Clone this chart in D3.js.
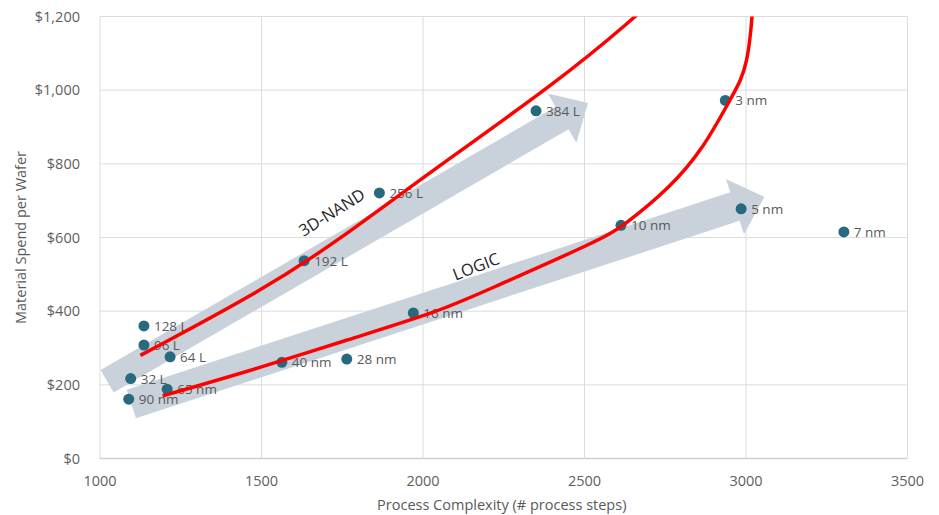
<!DOCTYPE html>
<html>
<head>
<meta charset="utf-8">
<script src="https://cdn.jsdelivr.net/npm/d3@7"></script>
<style>
  body { margin: 0; background: #fff; }
  text { font-family: "Open Sans", sans-serif; }
</style>
</head>
<body>
<svg id="chart" width="939" height="515"></svg>
<script>
// node labels, process steps and material spend ($ per wafer)
const nodeLabels = ["128 L", "96 L", "64 L", "32 L", "192 L", "256 L", "384 L",
                    "90 nm", "65 nm", "40 nm", "28 nm", "16 nm", "10 nm", "5 nm", "3 nm", "7 nm"];
const processSteps = [1136, 1136, 1217, 1095, 1632, 1865, 2350,
                      1089, 1208, 1563, 1764, 1970, 2613, 2985, 2936, 3303];
const materialSpend = [360, 308, 276, 217, 537, 721, 944,
                       161, 188, 261, 270, 395, 633, 678, 972, 615];

const xTicks = [1000, 1500, 2000, 2500, 3000, 3500];
const yTicks = [0, 200, 400, 600, 800, 1000, 1200];

// hand drawn trend curves (steps, spend)
const nandTrend = [[1125, 280], [1505, 457], [1743, 595], [2000, 764], [2424, 1027], [2656, 1198], [2700, 1235]];
const logicTrend = [[1194, 170], [1495, 246], [1765, 322], [2053, 400], [2198, 457], [2548, 593],
                    [2616, 628], [2768, 737], [2870, 845], [2950, 973], [2985, 1027], [3003, 1081],
                    [3012, 1136], [3019, 1198], [3021, 1240]];

// big grey arrows: [tail, tip] in data units
const nandArrow = [[1022, 210], [2511, 965]];
const logicArrow = [[1097, 148], [3057, 710]];

const svg = d3.select("#chart");
const margin = {top: 16.5, right: 31.5, bottom: 56.5, left: 100};
const W = 939, H = 515;

const x = d3.scaleLinear().domain([1000, 3500]).range([margin.left, W - margin.right]);
const y = d3.scaleLinear().domain([0, 1200]).range([H - margin.bottom, margin.top]);

svg.append("clipPath").attr("id", "plotClip")
  .append("rect")
    .attr("x", margin.left).attr("y", margin.top)
    .attr("width", W - margin.left - margin.right)
    .attr("height", H - margin.top - margin.bottom);

// gridlines
svg.append("g")
  .selectAll("line").data(yTicks).join("line")
    .attr("x1", margin.left).attr("x2", W - margin.right)
    .attr("y1", d => y(d)).attr("y2", d => y(d))
    .attr("stroke", d => d === 0 ? "#d0d0d0" : "#dcdcdc").attr("stroke-width", d => d === 0 ? 1.5 : 1);

svg.append("g")
  .selectAll("line").data(xTicks).join("line")
    .attr("x1", d => x(d)).attr("x2", d => x(d))
    .attr("y1", margin.top).attr("y2", H - margin.bottom)
    .attr("stroke", "#dcdcdc");

// tick labels
svg.append("g").selectAll("text").data(yTicks).join("text")
  .attr("x", margin.left - 20).attr("y", d => y(d))
  .attr("dy", "0.35em").attr("text-anchor", "end")
  .attr("font-size", 14.5).attr("fill", "#606060")
  .text(d => "$" + d3.format(",")(d));

svg.append("g").selectAll("text").data(xTicks).join("text")
  .attr("x", d => x(d)).attr("y", H - margin.bottom + 27)
  .attr("text-anchor", "middle")
  .attr("font-size", 14.5).attr("fill", "#606060")
  .text(d => d);

// axis titles
svg.append("text")
  .attr("x", (margin.left + W - margin.right) / 2 - 2).attr("y", 510)
  .attr("text-anchor", "middle").attr("font-size", 14.5).attr("fill", "#595959")
  .text("Process Complexity (# process steps)");

svg.append("text")
  .attr("transform", `translate(26,${(margin.top + H - margin.bottom) / 2}) rotate(-90)`)
  .attr("text-anchor", "middle").attr("font-size", 14.5).attr("fill", "#595959")
  .text("Material Spend per Wafer");

// arrow polygon in pixel space
function arrowPath(a, w, hw, hl) {
  const x0 = x(a[0][0]), y0 = y(a[0][1]), x1 = x(a[1][0]), y1 = y(a[1][1]);
  const len = Math.hypot(x1 - x0, y1 - y0);
  const ux = (x1 - x0) / len, uy = (y1 - y0) / len;
  const px = -uy, py = ux;
  const bx = x1 - ux * hl, by = y1 - uy * hl;
  const pts = [
    [x0 + px * w, y0 + py * w],
    [bx + px * w, by + py * w],
    [bx + px * hw, by + py * hw],
    [x1, y1],
    [bx - px * hw, by - py * hw],
    [bx - px * w, by - py * w],
    [x0 - px * w, y0 - py * w]
  ];
  return "M" + pts.map(p => p.join(",")).join("L") + "Z";
}

svg.append("path").attr("d", arrowPath(nandArrow, 13, 28.5, 30)).attr("fill", "#c9d2da");
svg.append("path").attr("d", arrowPath(logicArrow, 15, 29, 31)).attr("fill", "#c9d2da");

// points + labels
const pts = nodeLabels.map((l, i) => ({label: l, sx: processSteps[i], sy: materialSpend[i]}));

svg.append("g").selectAll("circle").data(pts).join("circle")
  .attr("cx", d => x(d.sx)).attr("cy", d => y(d.sy)).attr("r", 5.5)
  .attr("fill", "#27697f");

svg.append("g").selectAll("text").data(pts).join("text")
  .attr("x", d => x(d.sx) + 10).attr("y", d => y(d.sy))
  .attr("dy", "0.37em").attr("font-size", 13.5).attr("fill", "#595959")
  .text(d => d.label);

// arrow captions
function caption(txt, a, ang) {
  svg.append("text")
    .attr("transform", `translate(${x(a[0])},${y(a[1])}) rotate(${ang})`)
    .attr("text-anchor", "middle").attr("dy", "0.35em")
    .attr("font-size", 16.5).attr("font-weight", 500).attr("fill", "#262626")
    .text(txt);
}
caption("3D-NAND", [1718, 668], -32);
caption("LOGIC", [2164, 521], -21);

// red trend lines
const line = d3.line().x(d => x(d[0])).y(d => y(d[1])).curve(d3.curveBasis);
const red = svg.append("g").attr("clip-path", "url(#plotClip)");
red.append("path").attr("d", line(nandTrend)).attr("fill", "none").attr("stroke", "#ff0000").attr("stroke-width", 3.5);
red.append("path").attr("d", line(logicTrend)).attr("fill", "none").attr("stroke", "#ff0000").attr("stroke-width", 3.5);
</script>
</body>
</html>
